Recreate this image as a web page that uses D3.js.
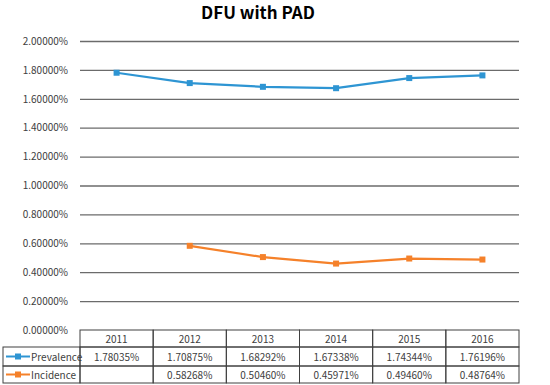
<!DOCTYPE html>
<html>
<head>
<meta charset="utf-8">
<script src="https://cdn.jsdelivr.net/npm/d3@7"></script>
<style>
  body { margin: 0; background: #fff; }
  text { font-family: "Noto Sans CJK KR", "Noto Sans", sans-serif; fill: #404040; }
</style>
</head>
<body>
<svg id="chart" width="550" height="385"></svg>
<script>
var years = ["2011", "2012", "2013", "2014", "2015", "2016"];
var prevalence = [1.78035, 1.70875, 1.68292, 1.67338, 1.74344, 1.76196];
var incidence = [null, 0.58268, 0.50460, 0.45971, 0.49460, 0.48764];
var seriesNames = ["Prevalence", "Incidence"];
var seriesColors = ["#2e95d3", "#f5812a"];
var yTicks = [0, 0.2, 0.4, 0.6, 0.8, 1.0, 1.2, 1.4, 1.6, 1.8, 2.0];

var svg = d3.select("#chart");
var margin = {left: 80, right: 31, top: 41, bottom: 55};
var width = 550 - margin.left - margin.right,
    height = 385 - margin.top - margin.bottom;

var g = svg.append("g").attr("transform", "translate(" + margin.left + "," + margin.top + ")");

var x = d3.scaleBand().domain(years).range([0, width]);
var y = d3.scaleLinear().domain([0, 2]).range([height, 0]);

svg.append("text")
  .attr("x", 258).attr("y", 19)
  .attr("text-anchor", "middle")
  .style("font-size", "17px").style("font-weight", "bold")
  .style("fill", "#000")
  .text("DFU with PAD");

// gridlines + tick labels
var yAxis = d3.axisLeft(y).tickValues(yTicks).tickSize(-width).tickPadding(12)
  .tickFormat(function(d) { return d.toFixed(5) + "%"; });
g.append("g").call(yAxis)
  .call(function(a) {
    a.select(".domain").remove();
    a.selectAll(".tick line").attr("stroke", "#6b6b6b").attr("stroke-width", 1.3);
    a.selectAll(".tick text").style("font-size", "10px").style("fill", "#404040");
    a.selectAll(".tick").filter(function(d) { return d === 0; }).select("line").remove();
  });

// lines
[prevalence, incidence].forEach(function(vals, k) {
  var pts = years.map(function(yr, i) { return {yr: yr, v: vals[i]}; })
    .filter(function(p) { return p.v != null; });
  var line = d3.line()
    .x(function(p) { return x(p.yr) + x.bandwidth() / 2; })
    .y(function(p) { return y(p.v); });
  g.append("path").datum(pts)
    .attr("fill", "none").attr("stroke", seriesColors[k]).attr("stroke-width", 2.2)
    .attr("d", line);
  g.selectAll(".m" + k).data(pts).enter().append("rect")
    .attr("x", function(p) { return x(p.yr) + x.bandwidth() / 2 - 3; })
    .attr("y", function(p) { return y(p.v) - 3; })
    .attr("width", 6).attr("height", 6)
    .attr("fill", seriesColors[k]);
});

// data table
var rowH = [17, 19, 17];
var tTop = height;
var labelLeft = 3 - margin.left;
var tbl = g.append("g").attr("class", "table");
var lineCol = "#404040";

// header row
years.forEach(function(yr) {
  tbl.append("rect")
    .attr("x", x(yr)).attr("y", tTop).attr("width", x.bandwidth()).attr("height", rowH[0])
    .attr("fill", "none").attr("stroke", lineCol);
  tbl.append("text")
    .attr("x", x(yr) + x.bandwidth() / 2).attr("y", tTop + rowH[0] / 2 + 4)
    .attr("text-anchor", "middle").style("font-size", "10px")
    .text(yr);
});

[prevalence, incidence].forEach(function(vals, k) {
  var ry = tTop + rowH[0] + (k ? rowH[1] : 0);
  var rh = rowH[k + 1];
  tbl.append("rect")
    .attr("x", labelLeft).attr("y", ry).attr("width", -labelLeft).attr("height", rh)
    .attr("fill", "none").attr("stroke", lineCol);
  tbl.append("line")
    .attr("x1", labelLeft + 3).attr("x2", labelLeft + 27)
    .attr("y1", ry + rh / 2).attr("y2", ry + rh / 2)
    .attr("stroke", seriesColors[k]).attr("stroke-width", 2);
  tbl.append("rect")
    .attr("x", labelLeft + 12).attr("y", ry + rh / 2 - 3).attr("width", 6).attr("height", 6)
    .attr("fill", seriesColors[k]);
  tbl.append("text")
    .attr("x", labelLeft + 28).attr("y", ry + rh / 2 + 4)
    .style("font-size", "10px").text(seriesNames[k]);
  years.forEach(function(yr, i) {
    tbl.append("rect")
      .attr("x", x(yr)).attr("y", ry).attr("width", x.bandwidth()).attr("height", rh)
      .attr("fill", "none").attr("stroke", lineCol);
    if (vals[i] != null) {
      tbl.append("text")
        .attr("x", x(yr) + x.bandwidth() / 2).attr("y", ry + rh / 2 + 4)
        .attr("text-anchor", "middle").style("font-size", "10px")
        .text(vals[i].toFixed(5) + "%");
    }
  });
});
</script>
</body>
</html>
